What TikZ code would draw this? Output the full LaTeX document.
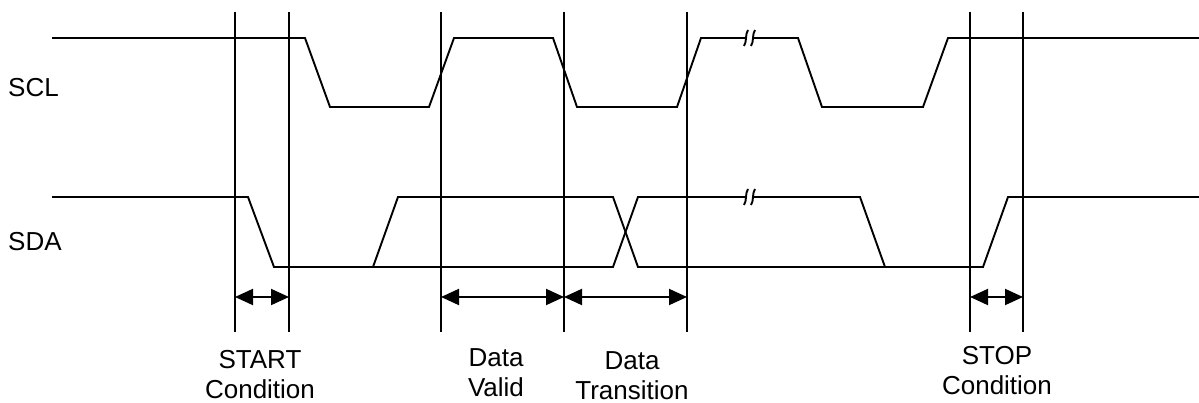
\documentclass[tikz,border=0pt]{standalone}
\usepackage{fontspec}
\setmainfont{Liberation Sans}
\usetikzlibrary{arrows.meta}
\tikzset{sig/.style={line width=1.9pt, line join=miter}}
\tikzset{marker/.style={line width=1.9pt}}
\newcommand{\squig}[1]{\draw[sig] (#1) ++(2,-8) .. controls +(-3,4) and +(3,-4) .. ++(-4,16);}

\begin{document}
\begin{tikzpicture}[
        x=1pt, y=-1pt,
        font=\fontsize{26}{30}\selectfont,
        >={Triangle[length=18pt,width=16pt]},
        dim/.style={
            line width=1.9pt,
            <->,
        },
        cond/.style={
            align=center,
            inner sep=0pt,
            anchor=north,
        },
        signame/.style={
            inner sep=0pt,
            anchor=base west,
        },
    ]
    \useasboundingbox (0,0) rectangle (1199,403);

    % Signal names
    \node[signame] (scl) at (8,97) {SCL};
    \node[signame] (sda) at (8,251) {SDA};

    % Marker lines named m#, top and bottom
    \foreach \i/\x in {1/235, 2/289, 3/441, 4/564, 5/687, 6/970, 7/1023} {
        \coordinate (m\i t) at (\x,12);
        \coordinate (m\i b) at (\x,332);
        \draw[marker] (m\i t) -- (m\i b);
    }

    % SCL waveform
    \draw[sig] (52,38) -- (305,38) -- (330,107) -- (429,107) -- (454,38) -- (553,38)
        -- (577,107) -- (677,107) -- (701,38) -- (746,38);
    \draw[sig] (753,38) -- (798,38) -- (822,107) -- (923,107) -- (948,38) -- (1199,38);
    \squig{746,38}
    \squig{753,38}

    % SDA waveform
    \draw[sig] (52,197) -- (248,197) -- (274,267) -- (613,267) -- (638,197) -- (746,197);
    \draw[sig] (753,197) -- (860,197) -- (885,267);
    \draw[sig] (373,267) -- (398,197) -- (613,197) -- (638,267) -- (983,267)
        -- (1008,197) -- (1199,197);
    \squig{746,197}
    \squig{753,197}

    % Timing arrows
    \coordinate (arw) at (0,297);
    \draw[dim] (m1b |- arw) -- (m2b |- arw);
    \draw[dim] (m3b |- arw) -- (m4b |- arw);
    \draw[dim] (m4b |- arw) -- (m5b |- arw);
    \draw[dim] (m6b |- arw) -- (m7b |- arw);

    % Condition labels
    \node[cond] (start) at (260,350) {START\\Condition};
    \node[cond] (valid) at (496,348) {Data\\Valid};
    \node[cond] (trans) at (632,351) {Data\\Transition};
    \node[cond] (stop) at (997,346) {STOP\\Condition};
\end{tikzpicture}
\end{document}
